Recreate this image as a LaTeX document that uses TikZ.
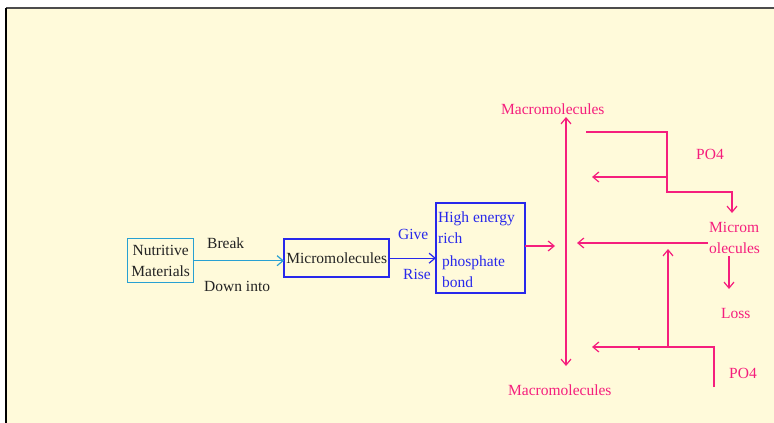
\documentclass[tikz,border=0pt]{standalone}
\usepackage{fontspec}
\setmainfont{Liberation Serif}
\usetikzlibrary{arrows.meta}
\definecolor{paper}{RGB}{255,250,218}
\definecolor{rose}{RGB}{245,30,125}
\definecolor{sky}{RGB}{40,160,210}
\definecolor{boxblue}{RGB}{40,40,235}
\definecolor{ink}{RGB}{35,35,35}

\begin{document}
\begin{tikzpicture}[x=1pt,y=-1pt,
  every node/.style={font=\fontsize{15.5}{21}\selectfont, inner sep=0pt},
  lbl/.style={anchor=base west},
  box/.style={anchor=north west},
  frame/.style={draw=#1, line width=1.4pt},
  tip/.style={-{Straight Barb[length=6pt,width=10pt,line width=1.2pt]}},
  tips/.style={{Straight Barb[length=6pt,width=10pt,line width=1.2pt]}-{Straight Barb[length=6pt,width=10pt,line width=1.2pt]}},
  wire/.style={line width=1.4pt, rose},
]
\useasboundingbox (0,0) rectangle (774,423);
% page and its frame
\fill[paper] (6,8) rectangle (774,423);
\draw[line width=1.2pt, black!70] (6,8) -- (774,8);
\draw[line width=2pt, black] (6,8) -- (6,423);

% ---- box outlines, stroked before any text is set ----
\coordinate (nutA) at (127.5,238.5);  \coordinate (nutB) at (193.5,282.5);
\coordinate (micA) at (284,239);      \coordinate (micB) at (389,277);
\coordinate (hepA) at (436,203);      \coordinate (hepB) at (525,293);
\draw[frame=sky] (nutA) rectangle (nutB);
\draw[frame=boxblue] (micA) rectangle (micB);
\draw[frame=boxblue] (hepA) rectangle (hepB);

% ---- left chain ----
\node[box, minimum width=66pt, minimum height=44pt, text=ink, align=center]
  (nut) at (nutA) {Nutritive\\Materials};
\node[box, minimum width=105pt, minimum height=38pt, text=ink]
  (micro) at (micA) {Micromolecules};
\node[box, minimum width=89pt, minimum height=90pt] (hep) at (hepA) {};

\node[lbl, text=ink] (break) at (207,248) {Break};
\node[lbl, text=ink] (down) at (204,291) {Down into};
\node[lbl, text=boxblue] (give) at (398,239) {Give};
\node[lbl, text=boxblue] (rise) at (403,279) {Rise};

\node[lbl, text=boxblue] (h1) at (438,222) {High energy};
\node[lbl, text=boxblue] (h2) at (438,243) {rich};
\node[lbl, text=boxblue] (h3) at (442,266) {phosphate};
\node[lbl, text=boxblue] (h4) at (442,287) {bond};

\draw[sky, line width=1.2pt, tip] (nut.east) -- (nut.east -| micro.west);
\draw[boxblue, line width=1.2pt, tip] (micro.east) -- (micro.east -| hep.west);

% ---- right cycle ----
\node[lbl, text=rose] (mtopl) at (501,114) {Macromolecules};
\node[lbl, text=rose] (mbotl) at (508,395) {Macromolecules};
\node[lbl, text=rose] (po4a) at (696,159) {PO4};
\node[lbl, text=rose] (mic1) at (709,232) {Microm};
\node[lbl, text=rose] (mic2) at (709,253) {olecules};
\node[lbl, text=rose] (loss) at (721,318) {Loss};
\node[lbl, text=rose] (po4b) at (729,378) {PO4};

\coordinate (mtop) at (566,117);
\coordinate (mbot) at (566,366);
\coordinate (feed) at (555,246);
\coordinate (a1) at (586,132);
\coordinate (a2) at (667,132);
\coordinate (a3) at (667,192);
\coordinate (a4) at (732,192);
\coordinate (a5) at (732,213);
\coordinate (b1) at (667,177);
\coordinate (b2) at (592,177);
\coordinate (c1) at (708,243);
\coordinate (c2) at (577,243);
\coordinate (d1) at (729,256);
\coordinate (d2) at (729,289);
\coordinate (e1) at (714,387);
\coordinate (e2) at (714,347);
\coordinate (e3) at (592,347);
\coordinate (f1) at (668,347);
\coordinate (f2) at (668,249);
\coordinate (g1) at (639,347);

\draw[wire, tip] (hep.east |- feed) -- (feed);
\draw[wire, tips] (mtop) -- (mbot);
\draw[wire, tip] (a1) -- (a2) -- (a3) -- (a4) -- (a5);
\draw[wire, tip] (b1) -- (b2);
\draw[wire, tip] (c1) -- (c2);
\draw[wire, tip] (d1) -- (d2);
\draw[wire, tip] (e1) -- (e2) -- (e3);
\draw[wire, tip] (f1) -- (f2);
\draw[wire, line width=1.2pt] (g1) -- ++(0,2.5);
\end{tikzpicture}
\end{document}
